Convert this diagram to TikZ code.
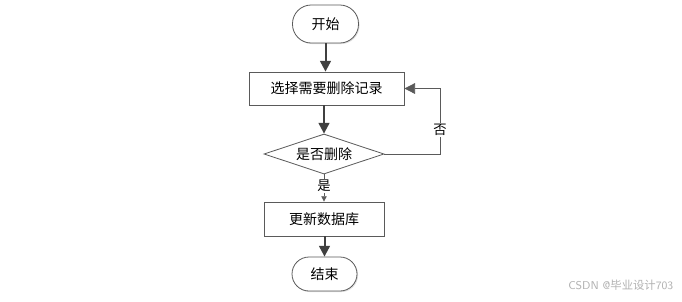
\documentclass[tikz,border=0pt]{standalone}
\usepackage{fontspec}
\newfontfamily\cjk{Noto Sans CJK SC}
\usetikzlibrary{shapes.geometric,arrows.meta,shadows}
\definecolor{linec}{HTML}{404040}
\definecolor{borderc}{HTML}{5A5A5A}
\begin{document}
\begin{tikzpicture}[x=0.75pt,y=-0.75pt,
  every node/.style={font=\cjk\fontsize{10.5pt}{12pt}\selectfont, text=black},
  shadowed/.style={drop shadow={shadow xshift=0.8pt,shadow yshift=-0.8pt,opacity=0.25,fill=gray}},
  term/.style={draw=borderc, line width=0.6pt, fill=white, shadowed, inner sep=0pt},
  procbox/.style={draw=borderc, line width=0.6pt, fill=white, shadowed, inner sep=0pt},
  decide/.style={diamond, draw=borderc, line width=0.6pt, fill=white, inner sep=0pt, minimum width=90pt, minimum height=30pt},
  flow/.style={draw=linec, line width=1.5pt, -{Triangle[length=8pt,width=8pt]}},
  thinflow/.style={draw=borderc, line width=0.6pt, -{Triangle[length=8pt,width=8pt]}},
  lbl/.style={fill=white, inner sep=1pt, font=\cjk\fontsize{10pt}{12pt}\selectfont}]
\useasboundingbox (0,0) rectangle (682,301);
\fill[white] (0,0) rectangle (682,301);

\node[term, rounded corners=14pt, minimum width=49.5pt, minimum height=28.5pt] (start) at (325.5,24) {开始};
\node[procbox, minimum width=116.25pt, minimum height=24.75pt] (sel) at (326.5,88.5) {选择需要删除记录};
\node[decide] (dec) at (324,154) {};
\node (dectext) at (dec.center) {是否删除};
\node[procbox, minimum width=90pt, minimum height=25.5pt] (upd) at (324,219) {更新数据库};
\node[term, rounded corners=12.75pt, minimum width=48.75pt, minimum height=25.5pt] (fin) at (324.5,274) {结束};

\coordinate (c1) at (440,154);
\coordinate (c2) at (440,88.5);

\draw[flow] (start.south) -- (start.south |- sel.north);
\draw[flow] (sel.south -| dec.north) -- (dec.north);
\draw[draw=borderc, line width=0.6pt, -{Triangle[length=4pt,width=4pt]}] (dec.south) -- (upd.north) node[lbl, pos=0.42] (yes) {是};
\draw[flow] (upd.south -| fin.north) -- (fin.north);
\draw[thinflow] (dec.east) -- (c1) -- (c2) -- (sel.east);
\node[lbl] (no) at (440,130) {否};

\node[font=\sffamily\fontsize{8.5pt}{10pt}\selectfont, text=black!30, anchor=east] (wm) at (678,285) {CSDN @{\cjk 毕业设计}703};
\end{tikzpicture}
\end{document}
